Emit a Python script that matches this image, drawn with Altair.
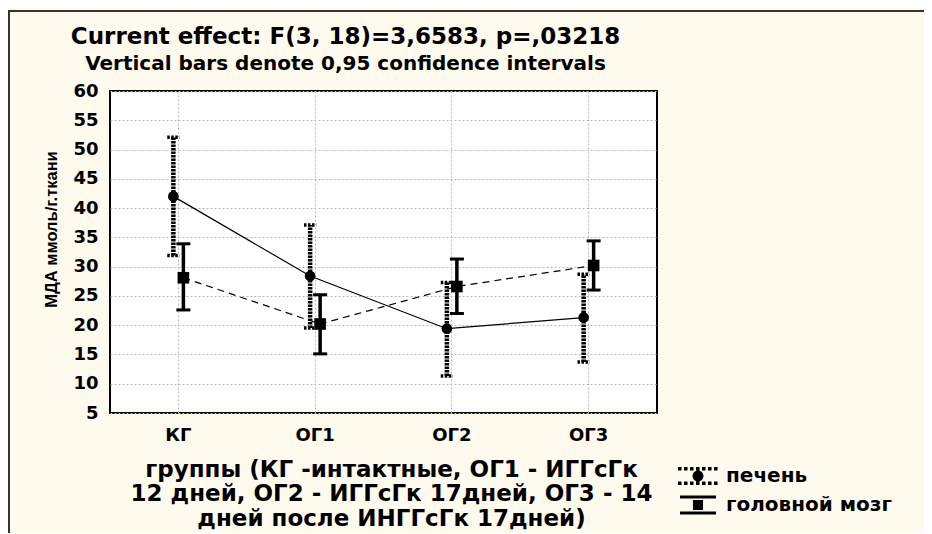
import altair as alt
import pandas as pd

groups = ["КГ", "ОГ1", "ОГ2", "ОГ3"]
series_names = ["печень", "головной мозг"]
liver_mean = [42.0, 28.4, 19.4, 21.3]
liver_low = [31.9, 19.5, 11.3, 13.7]
liver_high = [52.1, 37.1, 27.3, 28.7]
brain_mean = [28.1, 20.2, 26.6, 30.2]
brain_low = [22.6, 15.1, 22.0, 26.0]
brain_high = [33.9, 25.2, 31.3, 34.4]
y_ticks = list(range(5, 61, 5))

title_text = "Current effect: F(3, 18)=3,6583, p=,03218"
subtitle_text = "Vertical bars denote 0,95 confidence intervals"
y_title = "МДА ммоль/г.ткани"
x_title = ["группы (КГ -интактные, ОГ1 - ИГГсГк",
           "12 дней, ОГ2 - ИГГсГк 17дней, ОГ3 - 14",
           "дней после ИНГГсГк 17дней)"]

rows = []
for s, m, lo, hi in [(series_names[0], liver_mean, liver_low, liver_high),
                     (series_names[1], brain_mean, brain_low, brain_high)]:
    for g, a, b, c in zip(groups, m, lo, hi):
        rows.append({"group": g, "series": s, "mean": a, "low": b, "high": c})
df = pd.DataFrame(rows)

FONT = "DejaVu Sans"
W, H = 547, 322
half_step = W / len(groups) / 2


def rect(x0, y0, x1, y1):
    return f"M{x0:.3f},{y0:.3f}H{x1:.3f}V{y1:.3f}H{x0:.3f}Z"


# legend symbol paths (unit = 9 px, symbolSize 324)
liver_path = ""
for k in range(7):
    x0 = -2.22 + k * 0.667
    liver_path += rect(x0, -1.0, x0 + 0.39, -0.62)
    liver_path += rect(x0, 0.62, x0 + 0.39, 1.0)
liver_path += "M-2.22,0H2.22"
r = 0.61
liver_path += f"M{-r},0A{r},{r} 0 1,0 {r},0A{r},{r} 0 1,0 {-r},0Z"

brain_path = rect(-2.0, -1.05, 2.0, -0.72) + rect(-2.0, 0.72, 2.0, 1.05)
brain_path += "M-2.1,0H-1.3M1.3,0H2.1" + rect(-0.56, -0.56, 0.56, 0.56)

x_enc = alt.X(
    "group:N", sort=groups, title=x_title,
    scale=alt.Scale(domain=groups, paddingInner=0, paddingOuter=0),
    axis=alt.Axis(
        labelAngle=0, labelFont=FONT, labelFontSize=18, labelFontWeight="bold",
        labelColor="black", labelPadding=13, ticks=False, domain=False,
        grid=True, gridDash=[2, 2], gridColor="#b8b8b8", bandPosition=0.5,
        titleFont=FONT, titleFontSize=23, titleFontWeight="bold", titleColor="black",
        titleLineHeight=24.5, titleX=281, titleY=45, titleAlign="center",
        titleBaseline="top", titleAnchor="start",
    ),
)
x_off = alt.XOffset("series:N", scale=alt.Scale(
    type="point", domain=series_names, range=[half_step - 10, half_step + 10]))

y_scale = alt.Scale(domain=[5, 60], nice=False, zero=False)
y_axis = alt.Axis(
    values=y_ticks, tickCount=len(y_ticks), labelFont=FONT, labelFontSize=18,
    labelFontWeight="bold", labelColor="black", labelPadding=12, ticks=False,
    domain=False, labelOverlap=False,
    grid=True, gridDash=[2, 2], gridColor="#b8b8b8",
    titleFont="Liberation Sans", titleFontSize=16.5, titleFontWeight="bold",
    titleColor="black", titleAngle=270, titleX=-59, titleY=138,
    titleAlign="center", titleBaseline="middle",
)

base = alt.Chart(df).encode(x=x_enc, xOffset=x_off)
liver = base.transform_filter(alt.datum.series == series_names[0])
brain = base.transform_filter(alt.datum.series == series_names[1])

liver_line = liver.mark_line(color="black", strokeWidth=1.2).encode(
    y=alt.Y("mean:Q", scale=y_scale, axis=y_axis, title=y_title))
brain_line = brain.mark_line(color="black", strokeWidth=1.2, strokeDash=[7, 5]).encode(
    y=alt.Y("mean:Q", title=y_title))

liver_bar = liver.mark_rule(color="black", strokeWidth=4.5, strokeDash=[2.5, 1]).encode(
    y=alt.Y("low:Q", title=y_title), y2="high:Q")
brain_bar = brain.mark_rule(color="black", strokeWidth=3.5).encode(
    y=alt.Y("low:Q", title=y_title), y2="high:Q")

cap_shape = "M-1,0H1"
liver_cap_hi = liver.mark_point(shape=cap_shape, filled=False, color="black", opacity=1,
                                strokeWidth=3.5, size=150, strokeDash=[2.5, 1.5]).encode(
    y=alt.Y("high:Q", title=y_title))
liver_cap_lo = liver.mark_point(shape=cap_shape, filled=False, color="black", opacity=1,
                                strokeWidth=3.5, size=150, strokeDash=[2.5, 1.5]).encode(
    y=alt.Y("low:Q", title=y_title))
brain_cap_hi = brain.mark_point(shape=cap_shape, filled=False, color="black", opacity=1,
                                strokeWidth=3, size=196).encode(y=alt.Y("high:Q", title=y_title))
brain_cap_lo = brain.mark_point(shape=cap_shape, filled=False, color="black", opacity=1,
                                strokeWidth=3, size=196).encode(y=alt.Y("low:Q", title=y_title))

liver_pts = liver.mark_point(shape="circle", filled=True, color="black", opacity=1, size=115).encode(
    y=alt.Y("mean:Q", title=y_title))
brain_pts = brain.mark_point(shape="square", filled=True, color="black", opacity=1, size=135).encode(
    y=alt.Y("mean:Q", title=y_title))

legend_layer = base.mark_point(opacity=0, filled=True, color="black").encode(
    y=alt.Y("mean:Q", title=y_title),
    shape=alt.Shape(
        "series:N",
        scale=alt.Scale(domain=series_names, range=[liver_path, brain_path]),
        legend=alt.Legend(
            title=None, orient="none", legendX=578, legendY=375,
            symbolSize=324, symbolFillColor="black", symbolStrokeColor="black",
            symbolStrokeWidth=1, symbolOpacity=1, rowPadding=6,
            labelFont=FONT, labelFontSize=20, labelFontWeight="bold",
            labelColor="black", labelOffset=18, labelLimit=400,
        ),
    ),
)

# decorative outer frame (top and left edges), as in the original export
frame_df = pd.DataFrame({"k": [0]})
top_line = alt.Chart(frame_df).mark_rule(color="#333333", strokeWidth=2).encode(
    x=alt.value(-102), x2=alt.value(814), y=alt.value(-80))
left_line = alt.Chart(frame_df).mark_rule(color="#333333", strokeWidth=2).encode(
    x=alt.value(-101), y=alt.value(-80), y2=alt.value(443))

chart = alt.layer(
    top_line, left_line,
    liver_line, brain_line, liver_bar, brain_bar,
    liver_cap_hi, liver_cap_lo, brain_cap_hi, brain_cap_lo,
    liver_pts, brain_pts, legend_layer,
).properties(
    width=W, height=H,
    autosize=alt.AutoSizeParams(type="none"),
    padding={"left": 102, "top": 83, "right": 267, "bottom": 120},
    title=alt.TitleParams(
        text=title_text, subtitle=subtitle_text,
        font=FONT, fontSize=23, fontWeight="bold", color="black",
        subtitleFont=FONT, subtitleFontSize=20, subtitleFontWeight="bold",
        subtitleColor="black", subtitlePadding=5,
        anchor="middle", dx=-38, offset=-64,
    ),
).configure(
    background="#FFFAEE",
).configure_view(
    fill="white", stroke="black", strokeWidth=2,
)

chart.save("out.html", embed_options={"renderer": "svg", "actions": False})
